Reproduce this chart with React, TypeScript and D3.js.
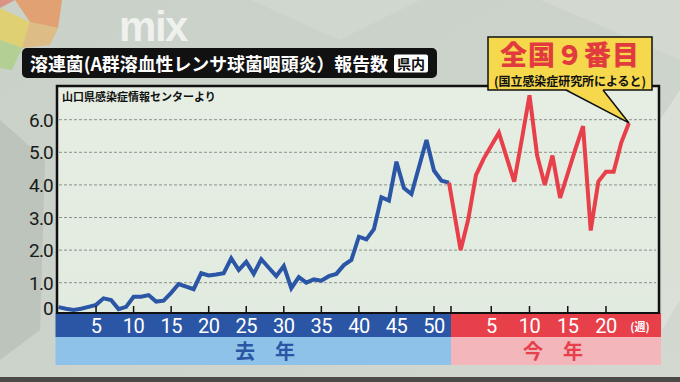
import React from "react";
import * as d3 from "d3";

const lastYearWeeks = [0,1,2,3,4,5,6,7,8,9,10,11,12,13,14,15,16,17,18,19,20,21,22,23,24,25,26,27,28,29,30,31,32,33,34,35,36,37,38,39,40,41,42,43,44,45,46,47,48,49,50,51,52];
const lastYearValues = [0.25,0.2,0.16,0.2,0.26,0.32,0.52,0.47,0.19,0.26,0.57,0.57,0.62,0.42,0.45,0.69,0.96,0.88,0.8,1.29,1.22,1.25,1.29,1.75,1.39,1.64,1.27,1.72,1.46,1.2,1.51,0.83,1.17,1.0,1.1,1.06,1.2,1.27,1.54,1.7,2.41,2.33,2.64,3.62,3.52,4.71,3.9,3.72,4.55,5.38,4.44,4.13,4.07];
const thisYearWeeks = [1,2,3,4,5,6,7,8,9,10,11,12,13,14,15,16,17,18,19,20,21,22,23];
const thisYearValues = [2.0,2.95,4.3,4.8,5.2,5.6,4.85,4.1,5.4,6.75,4.9,4.0,4.9,3.6,4.35,5.1,5.8,2.6,4.1,4.4,4.4,5.3,5.9];
const yTicks = [0,1,2,3,4,5,6];
const lastYearTicks = [5,10,15,20,25,30,35,40,45,50];
const thisYearTicks = [5,10,15,20];

const BLUE = "#2b56a6";
const RED = "#e8404b";
const JP = "'Noto Sans CJK JP','Noto Sans',sans-serif";
const NUM = "Roboto,'Noto Sans',sans-serif";

export default function App() {
  const xLast = d3.scaleLinear().domain([0, 52]).range([58.5, 449]);
  const xThis = d3.scaleLinear().domain([0, 20]).range([453, 606]);
  const y = d3.scaleLinear().domain([0, 6]).range([315.3, 119.7]);
  const plotL = 57, plotR = 659, plotT = 86, axisY = 313;
  const boundary = (xLast(52) + xThis(0)) / 2;

  const blueLine = d3.line<number>()
    .x((_, i) => xLast(lastYearWeeks[i]))
    .y((d) => y(d));
  const redPts: [number, number][] = [
    [xLast(lastYearWeeks[lastYearWeeks.length - 1]), y(lastYearValues[lastYearValues.length - 1])],
    ...thisYearValues.map((v, i) => [xThis(thisYearWeeks[i]), y(v)] as [number, number]),
  ];
  const redLine = d3.line();
  const tip = redPts[redPts.length - 1];

  return (
    <svg width={680} height={382} style={{ position: "absolute", left: 0, top: 0, display: "block" }}>
      <defs>
        <linearGradient id="bg" x1="0" y1="0" x2="1" y2="1">
          <stop offset="0" stopColor="#c9d1c8" />
          <stop offset="0.5" stopColor="#cbd3ca" />
          <stop offset="1" stopColor="#d3d9d0" />
        </linearGradient>
        <linearGradient id="panel" x1="0" y1="0" x2="0" y2="1">
          <stop offset="0" stopColor="#e6eee3" />
          <stop offset="1" stopColor="#e2ebe0" />
        </linearGradient>
      </defs>
      <rect x={0} y={0} width={680} height={382} fill="url(#bg)" />
      <polygon points="0,120 45,160 40,330 0,360" fill="#b3bbb2" opacity={0.6} />
      <polygon points="660,120 680,90 680,300 662,330" fill="#dde2da" opacity={0.8} />
      <polygon points="250,0 420,0 340,40" fill="#d2d9d0" opacity={0.7} />
      <polygon points="540,0 680,0 680,60" fill="#d6dcd3" opacity={0.7} />
      {/* top-left colourful facets */}
      <polygon points="15,0 62,0 58,28 30,22" fill="#e7955d" opacity={0.8} />
      <polygon points="0,8 30,22 22,48 0,40" fill="#e4cf5e" opacity={0.8} />
      <polygon points="30,22 58,28 50,45 22,48" fill="#e7b36a" opacity={0.7} />
      <polygon points="0,40 22,48 12,70 0,68" fill="#a9cf7e" opacity={0.7} />
      <polygon points="0,0 15,0 0,8" fill="#e07a6a" opacity={0.7} />
      {/* logo */}
      <text x={153} y={41} textAnchor="middle" fontFamily="'Liberation Sans',Arial,sans-serif" fontWeight={900} fontSize={42} fill="#ffffff" opacity={0.7} letterSpacing={-1.5}>mix</text>

      {/* title bar */}
      <rect x={22} y={48} width={415} height={30} rx={5} fill="#111111" />
      <text x={30} y={70.5} fontFamily={JP} fontWeight={700} fontSize={18} fill="#ffffff" textLength={358} lengthAdjust="spacingAndGlyphs">溶連菌(A群溶血性レンサ球菌咽頭炎）報告数</text>
      <rect x={394} y={54.5} width={34} height={18} rx={2} fill="#ffffff" />
      <text x={411} y={69} textAnchor="middle" fontFamily={JP} fontWeight={700} fontSize={14} fill="#111">県内</text>

      {/* plot panel */}
      <rect x={plotL} y={plotT} width={plotR - plotL} height={axisY - plotT} fill="url(#panel)" />
      {yTicks.filter((t) => t > 0).map((t) => (
        <line key={t} x1={plotL + 2} x2={plotR - 3} y1={y(t)} y2={y(t)} stroke="#8b918b" strokeWidth={1} strokeDasharray="3 2" />
      ))}
      <path d={`M${plotL},${axisY} V${plotT} H${plotR} V${axisY}`} fill="none" stroke="#111" strokeWidth={2.5} />
      <text x={62} y={101} fontFamily={JP} fontWeight={700} fontSize={11} fill="#111">山口県感染症情報センターより</text>

      {/* y labels */}
      {yTicks.map((t) => (
        <text key={t} x={53} y={t === 0 ? y(0) : y(t) + 7} textAnchor="end" fontFamily={NUM} fontSize={19} fill="#1a1a1a" letterSpacing={-0.8}>
          {t === 0 ? "0" : t.toFixed(1)}
        </text>
      ))}

      {/* lines */}
      <path d={blueLine(lastYearValues) || ""} fill="none" stroke={BLUE} strokeWidth={4} strokeLinejoin="miter" strokeMiterlimit={3} />
      <path d={redLine(redPts) || ""} fill="none" stroke={RED} strokeWidth={4} strokeLinejoin="miter" strokeMiterlimit={3} />

      {/* x axis bands */}
      <rect x={plotL - 1.5} y={axisY} width={boundary - plotL + 1.5} height={24} fill={BLUE} />
      <rect x={boundary} y={axisY} width={plotR + 2 - boundary} height={24} fill={RED} />
      <rect x={plotL - 1.5} y={axisY + 24} width={boundary - plotL + 1.5} height={28} fill="#8ec2e8" />
      <rect x={boundary} y={axisY + 24} width={plotR + 2 - boundary} height={28} fill="#f2b6bb" />
      <line x1={plotL - 1} x2={plotR + 1} y1={axisY} y2={axisY} stroke="#111" strokeWidth={2} />
      {lastYearTicks.map((t) => (
        <line key={"lt" + t} x1={xLast(t)} x2={xLast(t)} y1={axisY} y2={axisY - 7} stroke="#111" strokeWidth={1.5} />
      ))}
      {thisYearTicks.map((t) => (
        <line key={"tt" + t} x1={xThis(t)} x2={xThis(t)} y1={axisY} y2={axisY - 7} stroke="#111" strokeWidth={1.5} />
      ))}
      <line x1={boundary} x2={boundary} y1={axisY} y2={axisY - 7} stroke="#111" strokeWidth={1.5} />
      {lastYearTicks.map((t) => (
        <text key={"ll" + t} x={xLast(t)} y={333} textAnchor="middle" fontFamily={NUM} fontSize={20} fill="#ffffff" letterSpacing={-0.5}>{t}</text>
      ))}
      {thisYearTicks.map((t) => (
        <text key={"tl" + t} x={xThis(t)} y={333} textAnchor="middle" fontFamily={NUM} fontSize={20} fill="#ffffff" letterSpacing={-0.5}>{t}</text>
      ))}
      <text x={640} y={331} textAnchor="middle" fontFamily={JP} fontWeight={700} fontSize={11} fill="#ffffff">(週)</text>
      <text x={265} y={359} textAnchor="middle" fontFamily={JP} fontWeight={700} fontSize={20} fill={BLUE}>去　年</text>
      <text x={553} y={359} textAnchor="middle" fontFamily={JP} fontWeight={700} fontSize={20} fill={RED}>今　年</text>

      {/* callout */}
      <rect x={488} y={37} width={164} height={53} fill="#f5d84c" stroke="#111" strokeWidth={1.5} />
      <polygon points={`566,89 603,89 ${tip[0]},${tip[1]}`} fill="#f5d84c" />
      <polyline points={`566,90 ${tip[0]},${tip[1]} 603,90`} fill="none" stroke="#111" strokeWidth={1.5} />
      <text x={570} y={65} textAnchor="middle" fontFamily={JP} fontWeight={900} fontSize={27} fill="#e23b3f" letterSpacing={1}>全国９番目</text>
      <text x={570} y={86} textAnchor="middle" fontFamily={JP} fontWeight={700} fontSize={12.5} fill="#111" textLength={152} lengthAdjust="spacingAndGlyphs">(国立感染症研究所によると)</text>

      {/* bottom dark strip */}
      <rect x={0} y={377} width={680} height={5} fill="#4a4b48" />
    </svg>
  );
}
